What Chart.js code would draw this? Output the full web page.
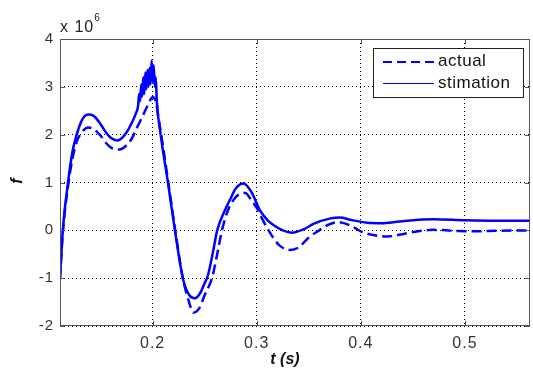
<!DOCTYPE html>
<html>
<head>
<meta charset="utf-8">
<script src="https://cdn.jsdelivr.net/npm/chart.js@4"></script>
<style>
  html, body { margin: 0; padding: 0; background: #fff; }
  #wrap { width: 533px; height: 369px; }
</style>
</head>
<body>
<div id="wrap"><canvas id="fChart" width="533" height="369"></canvas></div>
<script>
// time axis (s) and force values (x 10^6)
const estT = [0.111, 0.1137, 0.1187, 0.123, 0.127, 0.132, 0.138, 0.143, 0.15, 0.155, 0.16, 0.166, 0.17, 0.175, 0.18, 0.184, 0.186,
  0.187, 0.188, 0.189, 0.19, 0.191, 0.192, 0.193, 0.194, 0.195, 0.196, 0.197, 0.198, 0.199, 0.2, 0.201, 0.202, 0.203, 0.204,
  0.2077, 0.2147, 0.2214, 0.229, 0.235, 0.2407, 0.246, 0.25, 0.253, 0.258, 0.262, 0.268, 0.2745, 0.28, 0.287, 0.295, 0.303,
  0.31, 0.316, 0.325, 0.334, 0.345, 0.355, 0.371, 0.38, 0.39, 0.406, 0.422, 0.44, 0.47, 0.5, 0.53, 0.5625];
const estF = [-1.0, 0.0, 1.0, 1.65, 2.0, 2.3, 2.42, 2.4, 2.22, 2.05, 1.93, 1.88, 1.92, 2.05, 2.25, 2.45, 2.6,
  2.85, 2.7, 3.05, 2.8, 3.2, 2.85, 3.3, 2.95, 3.35, 3.0, 3.4, 3.05, 3.55, 3.1, 3.45, 3.0, 3.2, 2.7,
  2.0, 1.0, 0.0, -1.0, -1.35, -1.42, -1.3, -1.1, -0.95, -0.45, 0.0, 0.35, 0.65, 0.88, 0.98, 0.8, 0.42,
  0.22, 0.11, 0.0, -0.05, 0.02, 0.14, 0.25, 0.27, 0.22, 0.16, 0.15, 0.19, 0.23, 0.21, 0.2, 0.2];

const actT = [0.111, 0.1137, 0.1187, 0.123, 0.127, 0.132, 0.138, 0.143, 0.15, 0.155, 0.16, 0.168, 0.175, 0.18, 0.185, 0.19,
  0.195, 0.2, 0.203, 0.206, 0.21, 0.2147, 0.2214, 0.229, 0.235, 0.239, 0.245, 0.25, 0.257, 0.262, 0.2666, 0.272, 0.28,
  0.289, 0.295, 0.3, 0.305, 0.31, 0.316, 0.322, 0.332, 0.34, 0.35, 0.36, 0.368, 0.378, 0.39, 0.4, 0.41, 0.425, 0.44,
  0.455, 0.47, 0.49, 0.51, 0.53, 0.5625];
const actF = [-1.0, -0.05, 0.92, 1.5, 1.85, 2.05, 2.15, 2.12, 1.98, 1.83, 1.73, 1.69, 1.78, 1.92, 2.15, 2.37,
  2.6, 2.78, 2.7, 2.3, 1.75, 1.05, 0.05, -1.0, -1.5, -1.72, -1.62, -1.35, -1.0, -0.5, 0.0, 0.4, 0.7,
  0.78, 0.62, 0.47, 0.25, 0.05, -0.16, -0.32, -0.41, -0.36, -0.15, 0.0, 0.11, 0.17, 0.1, -0.02, -0.09, -0.13, -0.08,
  -0.02, 0.01, -0.01, -0.02, -0.01, 0.0];

const xTicks = [0.2, 0.3, 0.4, 0.5];
const yTicks = [-2, -1, 0, 1, 2, 3, 4];
const seriesNames = ['actual', 'stimation'];

const BLUE = '#0000ff';
const FONT = '"Liberation Sans", Arial, sans-serif';

const toPts = (ts, fs) => ts.map((t, i) => ({ x: t, y: fs[i] }));

// MATLAB-like box, inward ticks, legend and axis labels
const matlabDecor = {
  id: 'matlabDecor',
  beforeDraw(chart) {
    chart.ctx.letterSpacing = '1px';
  },
  afterDatasetsDraw(chart) {
    const { ctx, chartArea: a, scales } = chart;
    ctx.save();
    ctx.strokeStyle = '#555';
    ctx.lineWidth = 1;
    ctx.strokeRect(Math.round(a.left) + 0.5, Math.round(a.top) + 0.5,
      Math.round(a.right - a.left) - 1, Math.round(a.bottom - a.top) - 1);

    ctx.beginPath();
    xTicks.forEach(v => {
      const px = Math.round(scales.x.getPixelForValue(v)) + 0.5;
      ctx.moveTo(px, a.bottom); ctx.lineTo(px, a.bottom - 5);
      ctx.moveTo(px, a.top); ctx.lineTo(px, a.top + 5);
    });
    yTicks.forEach(v => {
      const py = Math.round(scales.y.getPixelForValue(v)) + 0.5;
      ctx.moveTo(a.left, py); ctx.lineTo(a.left + 5, py);
      ctx.moveTo(a.right, py); ctx.lineTo(a.right - 5, py);
    });
    ctx.stroke();

    // legend
    const lx = 373, ly = 48, lw = 150, lh = 49;
    ctx.fillStyle = '#fff';
    ctx.fillRect(lx, ly, lw, lh);
    ctx.strokeStyle = '#222';
    ctx.strokeRect(lx + 0.5, ly + 0.5, lw, lh);
    ctx.strokeStyle = BLUE;
    ctx.lineWidth = 2;
    ctx.setLineDash([9, 5]);
    ctx.beginPath(); ctx.moveTo(383, 62); ctx.lineTo(434, 62); ctx.stroke();
    ctx.setLineDash([]);
    ctx.lineWidth = 1;
    ctx.beginPath(); ctx.moveTo(383, 83.5); ctx.lineTo(434, 83.5); ctx.stroke();
    ctx.fillStyle = '#111';
    ctx.font = '17px ' + FONT;
    ctx.letterSpacing = '0.5px';
    ctx.textBaseline = 'middle';
    ctx.textAlign = 'left';
    ctx.fillText(seriesNames[0], 438, 61);
    ctx.fillText(seriesNames[1], 438, 83);

    // exponent
    ctx.fillStyle = '#222';
    ctx.letterSpacing = '1px';
    ctx.font = '16px ' + FONT;
    ctx.textBaseline = 'alphabetic';
    ctx.fillText('x 10', 60, 32);
    const w = ctx.measureText('x 10').width;
    ctx.font = '10px ' + FONT;
    ctx.fillText('6', 60 + w, 21);

    // axis titles
    ctx.fillStyle = '#111';
    ctx.letterSpacing = '0px';
    ctx.font = 'bold italic 16px ' + FONT;
    ctx.textAlign = 'center';
    ctx.textBaseline = 'middle';
    ctx.fillText('t (s)', 285, 360);
    ctx.save();
    ctx.translate(18, 181);
    ctx.rotate(-Math.PI / 2);
    ctx.fillText('f', 0, 0);
    ctx.restore();
    ctx.restore();
  }
};

new Chart(document.getElementById('fChart'), {
  type: 'line',
  data: {
    datasets: [{
      label: seriesNames[0],
      data: toPts(actT, actF),
      borderColor: BLUE,
      borderWidth: 2.5,
      borderDash: [10, 5],
      pointRadius: 0,
      fill: false,
      cubicInterpolationMode: 'monotone'
    }, {
      label: seriesNames[1],
      data: toPts(estT, estF),
      borderColor: BLUE,
      borderWidth: 2.5,
      pointRadius: 0,
      fill: false,
      cubicInterpolationMode: 'monotone'
    }]
  },
  options: {
    responsive: false,
    animation: false,
    layout: { padding: { top: 39, right: 3, left: 0, bottom: 0 } },
    plugins: { legend: { display: false }, tooltip: { enabled: false } },
    scales: {
      x: {
        type: 'linear',
        min: 0.111,
        max: 0.5625,
        afterBuildTicks: s => { s.ticks = xTicks.map(v => ({ value: v })); },
        afterFit: s => { s.height = 43; },
        grid: { color: '#000', lineWidth: 1, drawTicks: false },
        border: { display: false, dash: [1, 3] },
        ticks: {
          padding: 8,
          color: '#333',
          font: { family: FONT, size: 16 },
          maxRotation: 0,
          callback: v => v.toFixed(1)
        }
      },
      y: {
        min: -2,
        max: 4,
        afterBuildTicks: s => { s.ticks = yTicks.map(v => ({ value: v })); },
        afterFit: s => { s.width = 60; },
        grid: { color: '#000', lineWidth: 1, drawTicks: false },
        border: { display: false, dash: [1, 3] },
        ticks: {
          padding: 6,
          color: '#333',
          font: { family: FONT, size: 15 },
          callback: v => String(v)
        }
      }
    }
  },
  plugins: [matlabDecor]
});
</script>
</body>
</html>
